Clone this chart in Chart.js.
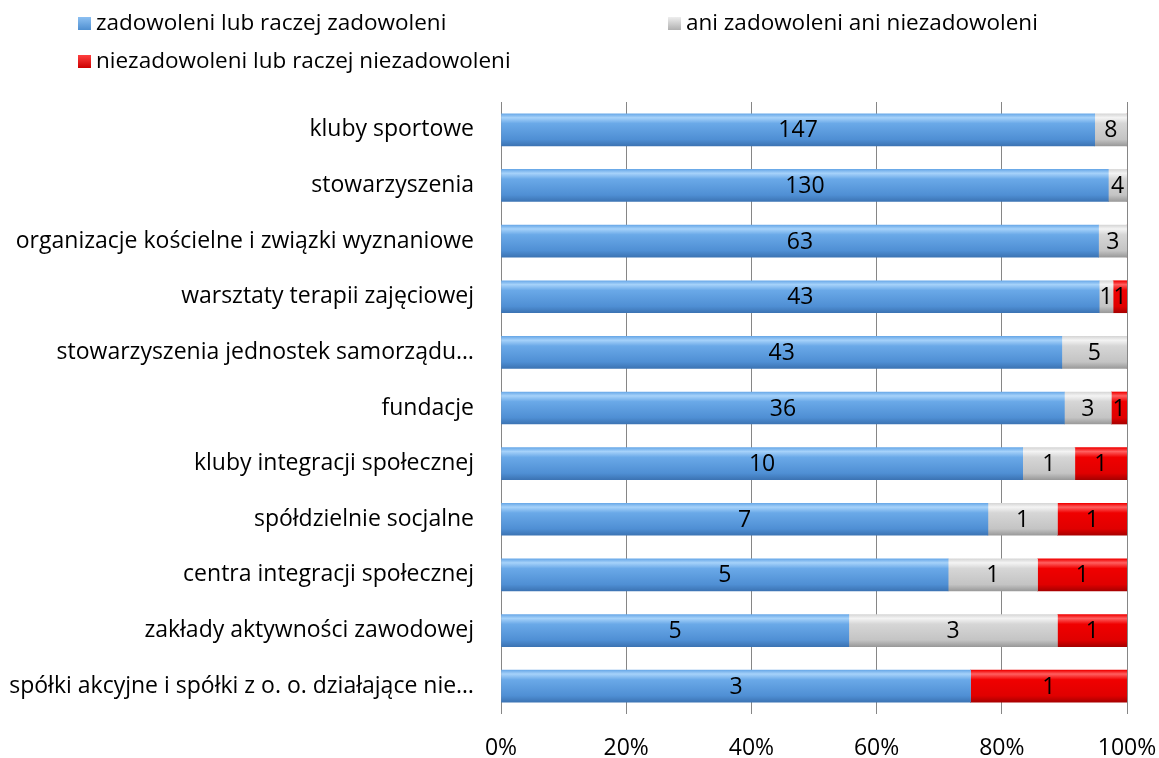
<!DOCTYPE html>
<html><head><meta charset="utf-8">
<script src="https://cdn.jsdelivr.net/npm/chart.js@4.4.0/dist/chart.umd.min.js"></script>
<style>
html,body{margin:0;padding:0;background:#fff;}
#wrap{position:relative;width:1159px;height:758px;}
canvas{position:absolute;left:0;top:0;}
.leg{position:absolute;font-family:"Open Sans", sans-serif;font-size:22.5px;color:#000;white-space:nowrap;line-height:26px;}
.sw{display:inline-block;width:13px;height:13px;margin-right:5px;vertical-align:0px;}
</style></head>
<body><div id="wrap"><canvas id="c" width="1159" height="758"></canvas>
<div class="leg" style="left:78px;top:9px"><span class="sw" style="background:linear-gradient(#8cc0f2,#4f8fd0)"></span>zadowoleni lub raczej zadowoleni</div>
<div class="leg" style="left:668px;top:9px"><span class="sw" style="background:linear-gradient(#eeeeee,#b0b0b0)"></span>ani zadowoleni ani niezadowoleni</div>
<div class="leg" style="left:78px;top:47px"><span class="sw" style="background:linear-gradient(#ff4040,#cc0000)"></span>niezadowoleni lub raczej niezadowoleni</div>
</div>
<script>
const categories = ["kluby sportowe","stowarzyszenia","organizacje kościelne i związki wyznaniowe","warsztaty terapii zajęciowej","stowarzyszenia jednostek samorządu…","fundacje","kluby integracji społecznej","spółdzielnie socjalne","centra integracji społecznej","zakłady aktywności zawodowej","spółki akcyjne i spółki z o. o. działające nie…"];
const satisfied = [147,130,63,43,43,36,10,7,5,5,3];
const neutral = [8,4,3,1,5,3,1,1,1,3,0];
const dissatisfied = [0,0,0,1,0,1,1,1,1,1,1];
const seriesNames = ["zadowoleni lub raczej zadowoleni","ani zadowoleni ani niezadowoleni","niezadowoleni lub raczej niezadowoleni"];
const tickLabels = ["0%","20%","40%","60%","80%","100%"];

const totals = satisfied.map((v,i)=>v+neutral[i]+dissatisfied[i]);
const pct = arr => arr.map((v,i)=>v/totals[i]*100);
const counts = [satisfied, neutral, dissatisfied];
const BAR = 32;
const FONT = '"Open Sans", sans-serif';
const palettes = [
  ["#a6d2fa","#6aa9e8","#4f8fd4","#3c74b4"],
  ["#f4f4f4","#d6d6d6","#c4c4c4","#9a9a9a"],
  ["#ff6060","#f00000","#e00000","#a80000"]
];
function grad(pi){
  return function(ctx){
    const chart = ctx.chart;
    const ys = chart.scales.y;
    const p = palettes[pi];
    if(!ys || ctx.dataIndex===undefined) return p[1];
    const yc = ys.getPixelForValue(ctx.dataIndex);
    if(!isFinite(yc)) return p[1];
    const g = chart.ctx.createLinearGradient(0,yc-BAR/2,0,yc+BAR/2);
    g.addColorStop(0,p[1]);g.addColorStop(0.12,p[0]);g.addColorStop(0.3,p[1]);
    g.addColorStop(0.8,p[2]);g.addColorStop(1,p[3]);
    return g;
  };
}
const labelPlugin = {
  id:'lbl',
  afterDatasetsDraw(chart){
    const c = chart.ctx;
    c.save();
    c.font = '23px ' + FONT;
    c.fillStyle = '#000';
    c.textAlign='center';c.textBaseline='middle';
    chart.data.datasets.forEach((ds,di)=>{
      const meta = chart.getDatasetMeta(di);
      meta.data.forEach((el,i)=>{
        const v = counts[di][i];
        if(!v) return;
        const x = (el.x + el.base)/2;
        c.fillText(String(v), x, el.y+1);
      });
    });
    c.restore();
  }
};
new Chart(document.getElementById('c'),{
  type:'bar',
  data:{labels:categories,datasets:[0,1,2].map(k=>({
    label:seriesNames[k],
    data:pct(counts[k]),
    backgroundColor:grad(k),
    borderWidth:0,
    barThickness:BAR
  }))},
  options:{
    indexAxis:'y',responsive:false,animation:false,
    layout:{padding:{top:102,right:32,bottom:0,left:0}},
    plugins:{legend:{display:false},tooltip:{enabled:false}},
    scales:{
      x:{stacked:true,min:0,max:100,
        ticks:{stepSize:20,padding:21,color:'#000',font:{family:FONT,size:23},callback:(v,i)=>tickLabels[i]},
        grid:{color:'#868686',drawTicks:false,lineWidth:1},border:{display:false},
        afterFit(s){s.height=44;s.paddingRight=0;s.paddingLeft=0;}
      },
      y:{stacked:true,
        ticks:{padding:27,color:'#000',font:{family:FONT,size:23}},
        grid:{display:false,drawTicks:false},border:{display:false},
        afterFit(s){s.width=501;}
      }
    }
  },
  plugins:[labelPlugin]
});
</script></body></html>
